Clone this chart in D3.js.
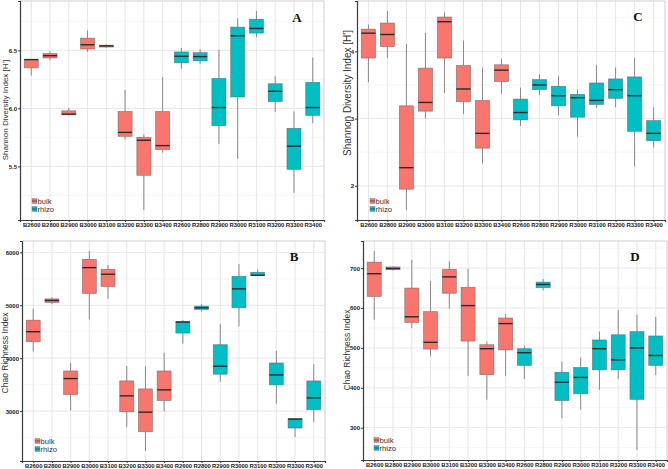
<!DOCTYPE html>
<html>
<head>
<meta charset="utf-8">
<script src="https://cdn.jsdelivr.net/npm/d3@7"></script>
<style>
  html, body { margin: 0; padding: 0; background: #fff; }
  svg { display: block; }
</style>
</head>
<body>
<svg id="chart" width="668" height="469"></svg>
<script>
// ---- Data ----
const categories = ["B2600","B2800","B2900","B3000","B3100","B3200","B3300","B3400",
                    "R2600","R2800","R2900","R3000","R3100","R3200","R3300","R3400"];
const groupNames = ["bulk", "rhizo"];
const groupOf = categories.map(c => c[0] === "B" ? "bulk" : "rhizo");

// Five-number summaries per category: [whisker low, Q1, median, Q3, whisker high]
const shannonA = [
  [6.283, 6.349, 6.420, 6.420, 6.420],
  [6.415, 6.434, 6.454, 6.472, 6.491],
  [5.940, 5.944, 5.950, 5.979, 6.004],
  [6.486, 6.511, 6.548, 6.605, 6.671],
  [6.522, 6.528, 6.538, 6.544, 6.550],
  [5.731, 5.759, 5.793, 5.973, 6.158],
  [5.124, 5.423, 5.725, 5.751, 5.776],
  [5.617, 5.645, 5.679, 5.973, 6.269],
  [6.340, 6.392, 6.449, 6.486, 6.520],
  [6.380, 6.409, 6.446, 6.480, 6.511],
  [5.694, 5.850, 6.007, 6.258, 6.506],
  [5.566, 6.098, 6.625, 6.700, 6.776],
  [6.614, 6.648, 6.688, 6.768, 6.839],
  [5.970, 6.058, 6.147, 6.212, 6.278],
  [5.272, 5.474, 5.674, 5.828, 5.973],
  [5.873, 5.939, 6.007, 6.224, 6.437]
];
const shannonC = [
  [3.54, 3.90, 4.27, 4.33, 4.40],
  [3.90, 4.07, 4.25, 4.42, 4.60],
  [1.64, 1.95, 2.27, 3.19, 4.11],
  [3.00, 3.11, 3.24, 3.75, 4.275],
  [3.38, 3.90, 4.44, 4.51, 4.58],
  [3.07, 3.25, 3.44, 3.79, 4.16],
  [2.33, 2.56, 2.78, 3.27, 3.76],
  [3.37, 3.55, 3.72, 3.80, 3.89],
  [2.89, 2.98, 3.09, 3.29, 3.46],
  [3.35, 3.43, 3.50, 3.58, 3.66],
  [3.05, 3.19, 3.34, 3.48, 3.63],
  [2.73, 3.02, 3.31, 3.36, 3.43],
  [3.16, 3.21, 3.27, 3.53, 3.80],
  [3.17, 3.30, 3.43, 3.59, 3.76],
  [2.29, 2.81, 3.34, 3.62, 3.90],
  [2.57, 2.67, 2.78, 2.97, 3.17]
];
const chaoB = [
  [4129, 4311, 4500, 4719, 4933],
  [5021, 5052, 5090, 5121, 5153],
  [3012, 3313, 3615, 3759, 3910],
  [4732, 5222, 5711, 5868, 6025],
  [5121, 5353, 5586, 5680, 5761],
  [2698, 2987, 3288, 3571, 3853],
  [2246, 2610, 2980, 3420, 3847],
  [2993, 3200, 3401, 3759, 4104],
  [4274, 4474, 4682, 4694, 4719],
  [4883, 4920, 4952, 4983, 5021],
  [3552, 3696, 3847, 4255, 4644],
  [4600, 4952, 5309, 5548, 5780],
  [5548, 5560, 5567, 5623, 5674],
  [3138, 3495, 3684, 3910, 4142],
  [2510, 2679, 2849, 2855, 2855],
  [2792, 3025, 3250, 3571, 3885]
];
const chaoD = [
  [571, 629, 686, 715, 743],
  [694, 696, 699, 703, 704],
  [550, 564, 578, 650, 721],
  [479, 497, 514, 591, 668],
  [598, 637, 678, 697, 717],
  [430, 517, 606, 652, 698],
  [370, 433, 498, 508, 516],
  [430, 495, 561, 575, 585],
  [422, 456, 488, 498, 506],
  [644, 651, 659, 665, 673],
  [324, 368, 414, 439, 466],
  [346, 385, 426, 451, 476],
  [395, 445, 498, 520, 541],
  [422, 445, 470, 533, 595],
  [244, 371, 500, 541, 583],
  [432, 456, 481, 530, 578]
];
const ticksA = [5.5, 6.0, 6.5];
const ticksC = [2, 3, 4];
const ticksB = [3000, 4000, 5000, 6000];
const ticksD = [300, 400, 500, 600, 700];
const labelsA = ["5.5", "6.0", "6.5"];
const labelsC = ["2", "3", "4"];
const labelsB = ["3000", "4000", "5000", "6000"];
const labelsD = ["300", "400", "500", "600", "700"];
const titleShannon = "Shannon Diversity Index [H']";
const titleChao = "Chao Richness Index";

// ---- Drawing ----
const colors = { bulk: "#F8766D", rhizo: "#00BFC4" };
const svg = d3.select("#chart");

function drawPanel(cfg) {
  const g = svg.append("g");
  const { x0, x1, y0, y1, stats, ticks, tickLabels } = cfg;
  const lo = d3.min(stats, d => d[0]), hi = d3.max(stats, d => d[4]);
  const pad = (hi - lo) * 0.05;
  const y = d3.scaleLinear().domain([lo - pad, hi + pad]).range([y1, y0]);
  const x = d3.scalePoint().domain(categories).range([x0, x1]).padding(0.6);
  const step = x.step();
  const bw = step * 0.75;

  // background grid
  const step2 = ticks[1] - ticks[0];
  const minor = [];
  for (let v = ticks[0] - step2 / 2; v <= hi + pad; v += step2) {
    if (v >= lo - pad) minor.push(v);
  }
  g.append("g").selectAll("line.minor").data(minor).join("line")
    .attr("x1", x0).attr("x2", x1)
    .attr("y1", d => y(d)).attr("y2", d => y(d))
    .attr("stroke", "#f0f0f0").attr("stroke-width", 0.6);
  g.append("g").selectAll("line.major").data(ticks).join("line")
    .attr("x1", x0).attr("x2", x1)
    .attr("y1", d => y(d)).attr("y2", d => y(d))
    .attr("stroke", "#e3e3e3").attr("stroke-width", 0.9);
  g.append("g").selectAll("line.vx").data(categories).join("line")
    .attr("x1", d => x(d)).attr("x2", d => x(d))
    .attr("y1", y0).attr("y2", y1)
    .attr("stroke", "#e3e3e3").attr("stroke-width", 0.9);

  // boxes
  const boxes = g.append("g").selectAll("g.box").data(stats).join("g");
  boxes.append("line")
    .attr("x1", (d, i) => x(categories[i])).attr("x2", (d, i) => x(categories[i]))
    .attr("y1", d => y(d[4])).attr("y2", d => y(d[3]))
    .attr("stroke", "#8a8a8a").attr("stroke-width", 1);
  boxes.append("line")
    .attr("x1", (d, i) => x(categories[i])).attr("x2", (d, i) => x(categories[i]))
    .attr("y1", d => y(d[1])).attr("y2", d => y(d[0]))
    .attr("stroke", "#8a8a8a").attr("stroke-width", 1);
  boxes.append("rect")
    .attr("x", (d, i) => x(categories[i]) - bw / 2).attr("width", bw)
    .attr("y", d => y(d[3])).attr("height", d => Math.max(1, y(d[1]) - y(d[3])))
    .attr("fill", (d, i) => colors[groupOf[i]])
    .attr("stroke", "#555").attr("stroke-opacity", 0.6).attr("stroke-width", 0.7);
  boxes.append("line")
    .attr("x1", (d, i) => x(categories[i]) - bw / 2).attr("x2", (d, i) => x(categories[i]) + bw / 2)
    .attr("y1", d => y(d[2])).attr("y2", d => y(d[2]))
    .attr("stroke", "#2b2b2b").attr("stroke-width", 1.4);

  // frame
  g.append("line").attr("x1", x0).attr("x2", x1).attr("y1", y0).attr("y2", y0)
    .attr("stroke", "#cfcfcf").attr("stroke-width", 1);
  g.append("line").attr("x1", x1).attr("x2", x1).attr("y1", y0).attr("y2", y1)
    .attr("stroke", "#cfcfcf").attr("stroke-width", 1);

  // axes
  const yAxis = d3.axisLeft(y).tickValues(ticks).tickSize(2)
    .tickFormat((d, i) => tickLabels[i]);
  const ya = g.append("g").attr("transform", `translate(${x0},0)`).call(yAxis);
  ya.select(".domain").attr("stroke", "#3a3a3a").attr("stroke-width", 1.2);
  ya.selectAll(".tick line").attr("stroke", "#3a3a3a");
  ya.selectAll(".tick text").attr("font-family", "Liberation Sans, Arial, sans-serif")
    .attr("font-size", 6).attr("font-weight", "bold").attr("fill", "#222").attr("x", -3);

  const xAxis = d3.axisBottom(x).tickSize(2);
  const xa = g.append("g").attr("transform", `translate(0,${y1})`).call(xAxis);
  xa.select(".domain").attr("stroke", "#3a3a3a").attr("stroke-width", 1.2);
  xa.selectAll(".tick line").attr("stroke", "#3a3a3a");
  xa.selectAll(".tick text").attr("font-family", "Liberation Sans, Arial, sans-serif")
    .attr("font-size", 5.9).attr("font-weight", "bold").attr("fill", "#222").attr("y", 3);

  // y title
  g.append("text")
    .attr("transform", `translate(${cfg.titleX},${cfg.titleY}) rotate(-90)`)
    .attr("text-anchor", "middle").attr("dominant-baseline", "central")
    .attr("font-family", "Liberation Sans, Arial, sans-serif")
    .attr("font-size", cfg.titleSize).attr("fill", "#333")
    .text(cfg.title);

  // panel letter
  g.append("text").attr("x", cfg.letterX).attr("y", cfg.letterY)
    .attr("text-anchor", "middle").attr("dominant-baseline", "central")
    .attr("font-family", "Liberation Serif, Times New Roman, serif")
    .attr("font-weight", "bold").attr("font-size", 13).attr("fill", "#111")
    .text(cfg.letter);

  // legend
  const lg = g.append("g");
  groupNames.forEach((name, i) => {
    const ly = cfg.legY + i * 8;
    lg.append("rect").attr("x", cfg.legX).attr("y", ly - 2.5).attr("width", 5).attr("height", 5)
      .attr("fill", colors[name]).attr("stroke", "#888").attr("stroke-width", 0.5);
    lg.append("line").attr("x1", cfg.legX).attr("x2", cfg.legX + 5).attr("y1", ly).attr("y2", ly)
      .attr("stroke", "#444").attr("stroke-width", 0.8);
    lg.append("text").attr("x", cfg.legX + 5.5).attr("y", ly)
      .attr("dominant-baseline", "central")
      .attr("font-family", "Liberation Sans, Arial, sans-serif")
      .attr("font-size", 7.6).attr("fill", "#333").text(name);
  });
}

drawPanel({ x0: 20, x1: 324, y0: 1, y1: 220, stats: shannonA, ticks: ticksA, tickLabels: labelsA,
  title: titleShannon, titleX: 5, titleY: 110, titleSize: 8, letter: "A", letterX: 297, letterY: 17,
  legX: 32, legY: 201 });
drawPanel({ x0: 357, x1: 665, y0: 1, y1: 220, stats: shannonC, ticks: ticksC, tickLabels: labelsC,
  title: titleShannon, titleX: 347, titleY: 93, titleSize: 10, letter: "C", letterX: 638, letterY: 16,
  legX: 370, legY: 201 });
drawPanel({ x0: 22, x1: 325, y0: 241, y1: 461, stats: chaoB, ticks: ticksB, tickLabels: labelsB,
  title: titleChao, titleX: 5, titleY: 353, titleSize: 8.5, letter: "B", letterX: 294, letterY: 256,
  legX: 35, legY: 441 });
drawPanel({ x0: 363, x1: 667, y0: 241, y1: 460, stats: chaoD, ticks: ticksD, tickLabels: labelsD,
  title: titleChao, titleX: 347, titleY: 350, titleSize: 8.5, letter: "D", letterX: 635, letterY: 256,
  legX: 374, legY: 440 });
</script>
</body>
</html>
